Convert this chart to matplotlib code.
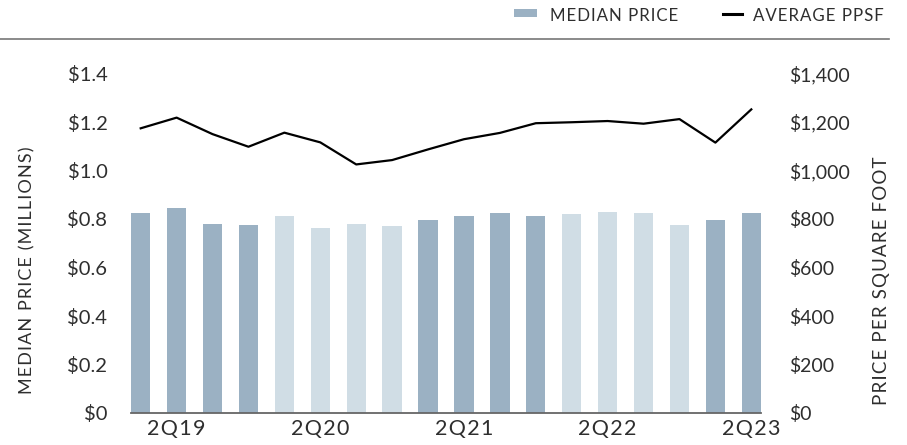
import matplotlib
matplotlib.use('Agg')
import matplotlib.pyplot as plt
from matplotlib.patches import Rectangle
from matplotlib.lines import Line2D

quarters = ['1Q19', '2Q19', '3Q19', '4Q19', '1Q20', '2Q20', '3Q20', '4Q20', '1Q21',
            '2Q21', '3Q21', '4Q21', '1Q22', '2Q22', '3Q22', '4Q22', '1Q23', '2Q23']
median_price = [0.825, 0.845, 0.779, 0.775, 0.812, 0.763, 0.779, 0.771, 0.796,
                0.812, 0.825, 0.812, 0.821, 0.829, 0.825, 0.775, 0.796, 0.825]
avg_ppsf = [1174, 1218, 1150, 1098, 1156, 1116, 1025, 1043, 1087,
            1129, 1155, 1195, 1199, 1204, 1193, 1212, 1115, 1252]
shade = ['dark'] * 4 + ['light'] * 4 + ['dark'] * 4 + ['light'] * 4 + ['dark'] * 2
tick_labels = ['2Q19', '2Q20', '2Q21', '2Q22', '2Q23']
left_ticks = [0, 0.2, 0.4, 0.6, 0.8, 1.0, 1.2, 1.4]
left_labels = ['$0', '$0.2', '$0.4', '$0.6', '$0.8', '$1.0', '$1.2', '$1.4']
right_ticks = [0, 200, 400, 600, 800, 1000, 1200, 1400]
right_labels = ['$0', '$200', '$400', '$600', '$800', '$1,000', '$1,200', '$1,400']

DARK = '#9bb1c3'
LIGHT = '#d0dde5'
TXT = '#2e2e2e'
FONT = ['Lato', 'DejaVu Sans']
plt.rcParams['font.family'] = FONT


def spaced(s, sep='\u200a'):
    return sep.join(s)


W, H = 907, 445
fig = plt.figure(figsize=(W / 100, H / 100), dpi=100)
ax = fig.add_axes([131 / W, 1 - 413 / H, (761 - 131) / W, (413 - 73.5) / H])

x = list(range(len(quarters)))
colors = [DARK if s == 'dark' else LIGHT for s in shade]
ax.bar(x, median_price, width=0.54, color=colors, zorder=2)
ax.set_xlim(-0.27, len(quarters) - 1 + 0.27)
ax.set_ylim(0, 1.4)
ax.set_yticks(left_ticks)
ax.set_yticklabels(left_labels)
ax.set_xticks([quarters.index(q) for q in tick_labels])
ax.set_xticklabels([spaced(t) for t in tick_labels])
for s in ['top', 'right', 'left']:
    ax.spines[s].set_visible(False)
ax.spines['bottom'].set_color('#666666')
ax.spines['bottom'].set_linewidth(1.3)
ax.tick_params(axis='y', length=0, pad=17, labelsize=14.5, labelcolor=TXT)
ax.tick_params(axis='x', length=0, pad=4, labelsize=15.5, labelcolor=TXT)

ax2 = ax.twinx()
ax2.plot(x, avg_ppsf, color='black', lw=1.6, zorder=3)
ax2.set_ylim(0, 1400)
ax2.set_yticks(right_ticks)
ax2.set_yticklabels(right_labels)
for s in ['top', 'right', 'left', 'bottom']:
    ax2.spines[s].set_visible(False)
ax2.tick_params(axis='y', length=0, pad=20, labelsize=14, labelcolor=TXT)

fig.text(27 / W, 1 - 270 / H, spaced('MEDIAN PRICE (MILLIONS)'), rotation=90,
         ha='center', va='center', fontsize=13, color=TXT)
fig.text(881 / W, 1 - 281 / H, spaced('PRICE PER SQUARE FOOT'), rotation=90,
         ha='center', va='center', fontsize=13.5, color=TXT)

# legend
fig.add_artist(Rectangle((514 / W, 1 - 17 / H), 23 / W, 8 / H, transform=fig.transFigure,
                         facecolor=DARK, edgecolor='none'))
fig.add_artist(Line2D([723 / W, 742 / W], [1 - 14 / H, 1 - 14 / H], transform=fig.transFigure,
                      color='black', lw=2.2))
fig.text(550 / W, 1 - 16 / H, spaced('MEDIAN PRICE'), ha='left', va='center',
         fontsize=12.2, color=TXT)
fig.text(753 / W, 1 - 16 / H, spaced('AVERAGE PPSF'), ha='left', va='center',
         fontsize=12.2, color=TXT)
fig.add_artist(Line2D([0, 889 / W], [1 - 39 / H, 1 - 39 / H], transform=fig.transFigure,
                      color='#777777', lw=1.2))

fig.savefig('out.png', dpi=100)
